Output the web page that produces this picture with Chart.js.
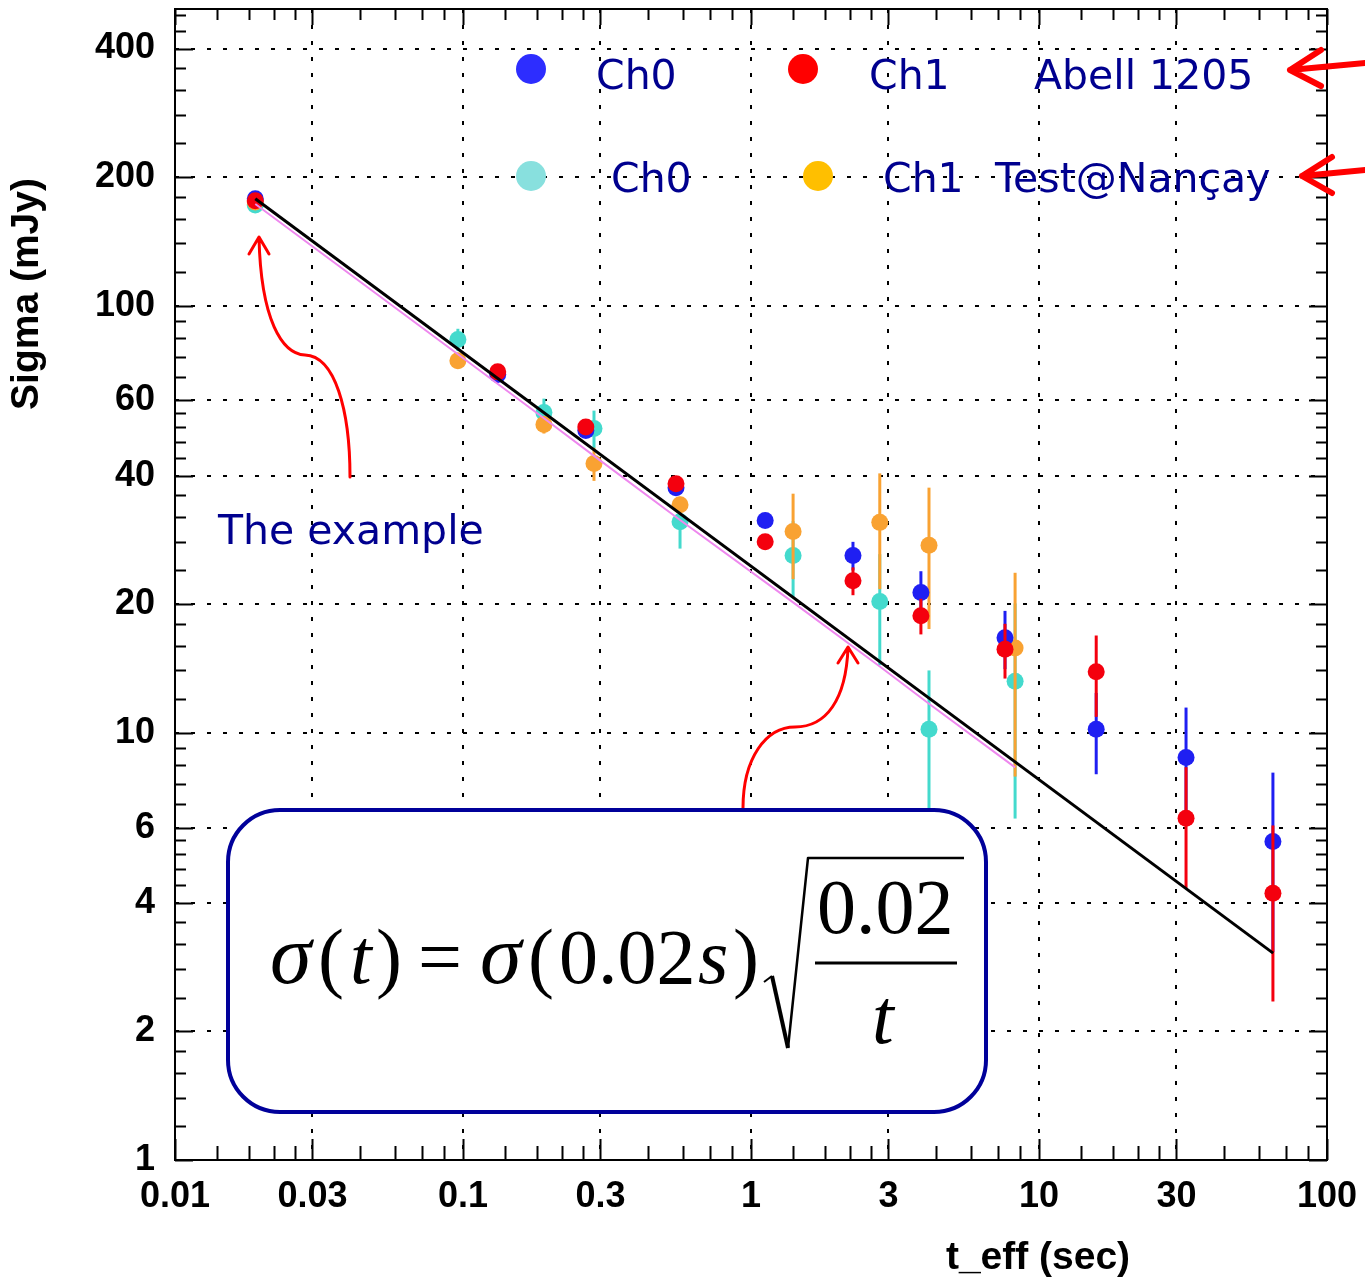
<!DOCTYPE html>
<html>
<head>
<meta charset="utf-8">
<script src="https://cdn.jsdelivr.net/npm/chart.js@4.4.1/dist/chart.umd.min.js"></script>
<style>
  body { margin: 0; background: #fff; }
  #wrap { width: 1365px; height: 1282px; position: relative; }
</style>
</head>
<body>
<div id="wrap"><canvas id="sigmaChart"></canvas></div>
<script>
// Abell 1205 runs: effective integration time (sec) and sigma (mJy)
var tAbell = [0.019, 0.132, 0.267, 0.549, 1.12, 2.26, 3.89, 7.62, 15.8, 32.4, 64.9];
var ch0Abell = [178, 69, 51, 37.5, 31.4, 26.0, 21.3, 16.7, 10.2, 8.76, 5.57];
var ch0AbellErr = [2, 1.5, 1.5, 1.2, 1.2, 2.0, 2.6, 2.6, 2.2, 2.7, 2.5];
var ch1Abell = [176, 70, 52, 38.3, 28.0, 22.7, 18.8, 15.7, 13.9, 6.31, 4.21];
var ch1AbellErr = [2, 1.5, 1.5, 1.2, 1.2, 1.7, 1.8, 2.3, 3.0, 2.0, 1.86];

// Test@Nancay runs
var tNancay = [0.019, 0.096, 0.191, 0.285, 0.567, 1.40, 2.80, 4.15, 8.26];
var ch0Nancay = [172, 83.3, 56.2, 51.6, 31.2, 26.0, 20.3, 10.2, 13.2];
var ch0NancayErr = [2, 5, 4.4, 5.2, 4.2, 5.3, 5.9, 3.8, 6.9];
var ch1Nancay = [175, 74.3, 52.7, 42.7, 34.2, 29.6, 31.1, 27.5, 15.8];
var ch1NancayErr = [2, 3, 2.5, 3.8, 1.5, 6.7, 9.4, 10, 7.9];

// sqrt(1/t) reference lines
var fitT = [0.019, 65];
var fitSigma = [178, 3.05];
var fitNancayT = [0.019, 0.096, 0.191, 0.285, 0.567, 1.40, 2.80, 4.15, 8.26];
var fitNancaySigma = [173, 77, 54.5, 44.5, 31.5, 20.2, 14.3, 11.7, 8.3];

// axis ticks
var xTickValues = [0.01, 0.03, 0.1, 0.3, 1, 3, 10, 30, 100];
var xTickLabels = ['0.01', '0.03', '0.1', '0.3', '1', '3', '10', '30', '100'];
var yTickValues = [1, 2, 4, 6, 10, 20, 40, 60, 100, 200, 400];
var yTickLabels = ['1', '2', '4', '6', '10', '20', '40', '60', '100', '200', '400'];

var BLUE = '#1f1ff2', RED = '#f4000e', CYAN = '#44dacd', ORANGE = '#f9a232';
var NAVY = '#00008f';

function pts(xs, ys) {
  return xs.map(function (x, i) { return { x: x, y: ys[i] }; });
}

// minor ticks: each labelled interval split in 5
function minorTicks(vals, extraStep, max) {
  var out = [];
  for (var i = 0; i < vals.length - 1; i++) {
    var step = (vals[i + 1] - vals[i]) / 5;
    for (var k = 1; k < 5; k++) out.push(vals[i] + k * step);
  }
  if (extraStep) {
    var v = vals[vals.length - 1] + extraStep;
    while (v < max) { out.push(v); v += extraStep; }
  }
  return out;
}

function serifFont(size, italic) {
  return (italic ? 'italic ' : '') + size + 'px "Liberation Serif", "Times New Roman", serif';
}

var framePlugin = {
  id: 'framePlugin',
  beforeDatasetDraw: function (chart, args) {
    var ds = chart.data.datasets[args.index];
    if (!ds.errors) return;
    var ctx = chart.ctx, xs = chart.scales.x, ys = chart.scales.y;
    ctx.save();
    ctx.strokeStyle = ds.backgroundColor;
    ctx.lineWidth = 3;
    ds.data.forEach(function (p, i) {
      var e = ds.errors[i];
      var px = xs.getPixelForValue(p.x);
      ctx.beginPath();
      ctx.moveTo(px, ys.getPixelForValue(p.y + e));
      ctx.lineTo(px, ys.getPixelForValue(Math.max(p.y - e, 0.001)));
      ctx.stroke();
    });
    ctx.restore();
  },
  afterDraw: function (chart) {
    var ctx = chart.ctx, a = chart.chartArea;
    var xs = chart.scales.x, ys = chart.scales.y;
    ctx.save();

    // frame
    ctx.strokeStyle = '#000';
    ctx.lineWidth = 2;
    ctx.strokeRect(a.left, a.top, a.right - a.left, a.bottom - a.top);

    // ticks on all four sides, pointing inward
    function xTick(v, lb, lt) {
      var px = Math.round(xs.getPixelForValue(v)) + 0.5;
      ctx.beginPath();
      ctx.moveTo(px, a.bottom); ctx.lineTo(px, a.bottom - lb);
      ctx.moveTo(px, a.top); ctx.lineTo(px, a.top + lt);
      ctx.stroke();
    }
    function yTick(v, len) {
      var py = Math.round(ys.getPixelForValue(v)) + 0.5;
      ctx.beginPath();
      ctx.moveTo(a.left, py); ctx.lineTo(a.left + len, py);
      ctx.moveTo(a.right, py); ctx.lineTo(a.right - len, py);
      ctx.stroke();
    }
    ctx.lineWidth = 2;
    xTickValues.forEach(function (v) { xTick(v, 21, 16); });
    minorTicks(xTickValues).forEach(function (v) { xTick(v, 14, 11); });
    yTickValues.forEach(function (v) { yTick(v, 18); });
    minorTicks(yTickValues, 40, ys.max).forEach(function (v) { yTick(v, 11); });

    // axis titles
    ctx.fillStyle = '#000';
    ctx.font = 'bold 39px "Liberation Sans", Arial, sans-serif';
    ctx.textAlign = 'center';
    ctx.textBaseline = 'middle';
    ctx.fillText('t_eff (sec)', 1038, 1258);
    ctx.save();
    ctx.translate(27, 294);
    ctx.rotate(-Math.PI / 2);
    ctx.fillText('Sigma (mJy)', 0, 0);
    ctx.restore();

    // legend text block
    function dot(x, y, c) {
      ctx.fillStyle = c;
      ctx.beginPath(); ctx.arc(x, y, 15, 0, Math.PI * 2); ctx.fill();
    }
    dot(531, 69, '#2d2dff');
    dot(803, 69, '#ff0000');
    dot(531, 176, '#88e0de');
    dot(818, 176, '#ffbf00');
    ctx.fillStyle = NAVY;
    ctx.font = '41px "DejaVu Sans", Verdana, sans-serif';
    ctx.textAlign = 'left';
    ctx.textBaseline = 'alphabetic';
    ctx.fillText('Ch0', 596, 89);
    ctx.fillText('Ch1', 869, 89);
    ctx.fillText('Abell 1205', 1034, 89);
    ctx.fillText('Ch0', 611, 192);
    ctx.fillText('Ch1', 883, 192);
    ctx.fillText('Test@Nançay', 995, 192);
    ctx.fillText('The example', 218, 544);

    // red arrows
    ctx.strokeStyle = '#ff0000';
    ctx.lineCap = 'round';
    ctx.lineJoin = 'round';
    ctx.lineWidth = 6;
    ctx.beginPath();
    ctx.moveTo(1366, 63); ctx.lineTo(1290, 70);
    ctx.moveTo(1321, 50); ctx.lineTo(1290, 70); ctx.lineTo(1321, 86);
    ctx.moveTo(1366, 170); ctx.lineTo(1302, 176);
    ctx.moveTo(1332, 157); ctx.lineTo(1302, 176); ctx.lineTo(1332, 193);
    ctx.stroke();

    ctx.lineWidth = 3;
    ctx.beginPath();
    ctx.moveTo(350, 477);
    ctx.bezierCurveTo(350, 410, 335, 356, 305, 355);
    ctx.bezierCurveTo(282, 354, 261, 320, 259, 238);
    ctx.moveTo(249, 254); ctx.lineTo(259, 237); ctx.lineTo(269, 254);
    ctx.stroke();

    ctx.beginPath();
    ctx.moveTo(743, 808);
    ctx.bezierCurveTo(743, 758, 766, 727, 795, 727);
    ctx.bezierCurveTo(826, 727, 846, 700, 848, 648);
    ctx.moveTo(838, 663); ctx.lineTo(848, 647); ctx.lineTo(858, 663);
    ctx.stroke();

    // formula box
    var bx = 228, by = 810, bw = 758, bh = 302, r = 52;
    ctx.fillStyle = '#fff';
    ctx.strokeStyle = '#00009a';
    ctx.lineWidth = 4;
    ctx.beginPath();
    ctx.moveTo(bx + r, by);
    ctx.arcTo(bx + bw, by, bx + bw, by + bh, r);
    ctx.arcTo(bx + bw, by + bh, bx, by + bh, r);
    ctx.arcTo(bx, by + bh, bx, by, r);
    ctx.arcTo(bx, by, bx + bw, by, r);
    ctx.closePath();
    ctx.fill();
    ctx.stroke();

    ctx.fillStyle = '#000';
    var base = 983;
    ctx.font = serifFont(84, true);
    ctx.fillText('σ', 270, base);
    ctx.fillText('σ', 480, base);
    ctx.font = serifFont(78, true);
    ctx.fillText('t', 350, base);
    ctx.fillText('s', 698, base);
    ctx.font = serifFont(78, false);
    ctx.fillText('(', 318, base);
    ctx.fillText(')', 376, base);
    ctx.fillText('=', 418, base);
    ctx.fillText('(', 528, base);
    ctx.fillText('0.02', 559, base);
    ctx.fillText(')', 733, base);
    ctx.fillText('0.02', 817, 933);
    ctx.font = serifFont(78, true);
    ctx.fillText('t', 872, 1043);

    // radical and fraction bar
    ctx.strokeStyle = '#000';
    ctx.lineCap = 'butt';
    ctx.lineWidth = 2;
    ctx.beginPath();
    ctx.moveTo(764, 982); ctx.lineTo(772, 976);
    ctx.stroke();
    ctx.lineWidth = 4;
    ctx.beginPath();
    ctx.moveTo(772, 976); ctx.lineTo(788, 1048);
    ctx.stroke();
    ctx.lineWidth = 2.5;
    ctx.beginPath();
    ctx.moveTo(788, 1048); ctx.lineTo(808, 858); ctx.lineTo(964, 858);
    ctx.stroke();
    ctx.lineWidth = 3;
    ctx.beginPath();
    ctx.moveTo(815, 963); ctx.lineTo(957, 963);
    ctx.stroke();

    ctx.restore();
  }
};

var ctx = document.getElementById('sigmaChart').getContext('2d');

var pointStyle = function (color, order, xs, ys, errs, label) {
  return {
    label: label,
    data: pts(xs, ys),
    errors: errs,
    backgroundColor: color,
    borderColor: color,
    borderWidth: 0,
    pointRadius: 8.5,
    pointHoverRadius: 8.5,
    showLine: false,
    order: order
  };
};

var config = {
  type: 'scatter',
  data: {
    datasets: [
      { label: 'sqrt fit', data: pts(fitT, fitSigma), borderColor: '#000', borderWidth: 3,
        pointRadius: 0, showLine: true, order: 0 },
      { label: 'sqrt fit Nancay', data: pts(fitNancayT, fitNancaySigma), borderColor: '#ee88ee',
        borderWidth: 2, pointRadius: 0, showLine: true, order: 1 },
      pointStyle(RED, 2, tAbell, ch1Abell, ch1AbellErr, 'Ch1 Abell 1205'),
      pointStyle(BLUE, 3, tAbell, ch0Abell, ch0AbellErr, 'Ch0 Abell 1205'),
      pointStyle(ORANGE, 4, tNancay, ch1Nancay, ch1NancayErr, 'Ch1 Test@Nançay'),
      pointStyle(CYAN, 5, tNancay, ch0Nancay, ch0NancayErr, 'Ch0 Test@Nançay')
    ]
  },
  options: {
    responsive: true,
    maintainAspectRatio: false,
    animation: false,
    layout: { padding: { left: 0, right: 38, top: 9, bottom: 0 } },
    plugins: { legend: { display: false }, tooltip: { enabled: false } },
    scales: {
      x: {
        type: 'logarithmic',
        min: 0.01,
        max: 100,
        afterBuildTicks: function (scale) {
          scale.ticks = xTickValues.map(function (v) { return { value: v }; });
        },
        afterFit: function (scale) {
          scale.height = 122;
          scale.paddingLeft = 0; scale.paddingRight = 0;
          scale.paddingTop = 0; scale.paddingBottom = 0;
        },
        ticks: {
          autoSkip: false, maxRotation: 0, padding: 15, color: '#000',
          font: { family: '"Liberation Sans", Arial, sans-serif', weight: 'bold', size: 36 },
          callback: function (v, i) { return xTickLabels[i]; }
        },
        grid: { color: '#000', lineWidth: 2, drawTicks: false },
        border: { display: false, dash: [4, 12] }
      },
      y: {
        type: 'logarithmic',
        min: 1,
        max: 495,
        afterBuildTicks: function (scale) {
          scale.ticks = yTickValues.map(function (v) { return { value: v }; });
        },
        afterFit: function (scale) {
          scale.width = 175;
          scale.paddingLeft = 0; scale.paddingRight = 0;
          scale.paddingTop = 0; scale.paddingBottom = 0;
        },
        ticks: {
          autoSkip: false, padding: 20, color: '#000',
          font: { family: '"Liberation Sans", Arial, sans-serif', weight: 'bold', size: 36 },
          callback: function (v, i) { return yTickLabels[i]; }
        },
        grid: { color: '#000', lineWidth: 2, drawTicks: false },
        border: { display: false, dash: [4, 12] }
      }
    }
  },
  plugins: [framePlugin]
};

window.sigmaChart = new Chart(ctx, config);
</script>
</body>
</html>
